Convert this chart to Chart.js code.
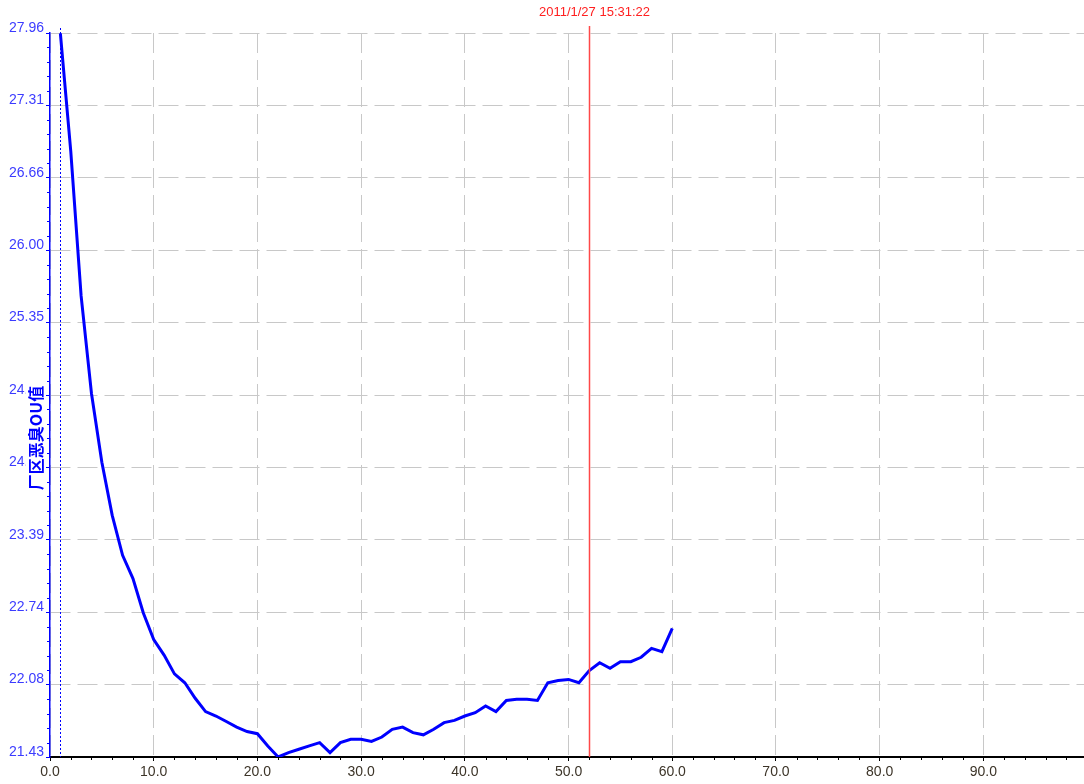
<!DOCTYPE html>
<html>
<head>
<meta charset="utf-8">
<title>厂区恶臭OU值</title>
<script src="https://cdn.jsdelivr.net/npm/chart.js@4.4.0/dist/chart.umd.min.js"></script>
<style>
    html, body { margin: 0; padding: 0; background: #fff; }
    #chart { display: block; }
</style>
</head>
<body>
<canvas id="chart" width="1084" height="784"></canvas>
<script>
    // Sample positions and measured OU values
    const sampleX = [1, 2, 3, 4, 5, 6, 7, 8, 9, 10,
        11, 12, 13, 14, 15, 16, 17, 18, 19, 20,
        21, 22, 23, 24, 25, 26, 27, 28, 29, 30,
        31, 32, 33, 34, 35, 36, 37, 38, 39, 40,
        41, 42, 43, 44, 45, 46, 47, 48, 49, 50,
        51, 52, 53, 54, 55, 56, 57, 58, 59, 60];
    const ouValues = [27.96, 26.90, 25.59, 24.71, 24.09, 23.61, 23.25, 23.04, 22.73, 22.49,
        22.35, 22.18, 22.10, 21.96, 21.84, 21.80, 21.75, 21.70, 21.66, 21.64,
        21.53, 21.43, 21.47, 21.50, 21.53, 21.56, 21.47, 21.56, 21.59, 21.59,
        21.57, 21.61, 21.68, 21.70, 21.65, 21.63, 21.68, 21.74, 21.76, 21.80,
        21.83, 21.89, 21.84, 21.94, 21.95, 21.95, 21.94, 22.10, 22.12, 22.13,
        22.10, 22.21, 22.28, 22.23, 22.29, 22.29, 22.33, 22.41, 22.38, 22.59];

    // Axis ticks
    const xTicks = [0, 10, 20, 30, 40, 50, 60, 70, 80, 90];
    const yTicks = [21.43, 22.0833, 22.7366, 23.3899, 24.0432, 24.6965,
        25.3498, 26.0031, 26.6564, 27.3097, 27.963];

    // Cursor / marker
    const cursorX = 52;
    const cursorLabel = '2011/1/27 15:31:22';
    const markerX = 1;
    const axisTitle = '厂区恶臭OU值';

    const FONT = 'Arial, "Liberation Sans", sans-serif';

    /**
     * Overlay: minor ticks, marker lines, rotated axis title
     */
    const overlayPlugin = {
        id: 'overlay',
        afterDatasetsDraw: function(chart) {
            const ctx = chart.ctx;
            const area = chart.chartArea;
            const xs = chart.scales.x;

            // Blue dotted marker
            const mx = Math.round(xs.getPixelForValue(markerX)) + 0.5;
            ctx.save();
            ctx.strokeStyle = '#0000ff';
            ctx.lineWidth = 1;
            ctx.setLineDash([2, 2]);
            ctx.beginPath();
            ctx.moveTo(mx, area.top - 5);
            ctx.lineTo(mx, area.bottom);
            ctx.stroke();
            ctx.restore();

            // Red cursor line and its label
            const cx = Math.round(xs.getPixelForValue(cursorX)) + 0.5;
            ctx.save();
            ctx.strokeStyle = '#ff4848';
            ctx.lineWidth = 1.5;
            ctx.beginPath();
            ctx.moveTo(cx, area.top - 7);
            ctx.lineTo(cx, area.bottom);
            ctx.stroke();
            ctx.fillStyle = '#ff2020';
            ctx.font = '13px ' + FONT;
            ctx.textAlign = 'center';
            ctx.textBaseline = 'middle';
            ctx.fillText(cursorLabel, cx + 5, 12);
            ctx.restore();
        },
        afterDraw: function(chart) {
            const ctx = chart.ctx;
            const area = chart.chartArea;
            const xs = chart.scales.x;
            const ys = chart.scales.y;

            ctx.save();
            ctx.lineWidth = 1;

            // Minor ticks on x axis
            ctx.strokeStyle = '#000';
            ctx.beginPath();
            for (let v = 2; v < xs.max; v += 2) {
                if (v % 10 === 0) {
                    continue;
                }
                const px = Math.round(xs.getPixelForValue(v)) + 0.5;
                ctx.moveTo(px, area.bottom);
                ctx.lineTo(px, area.bottom + 3);
            }
            ctx.stroke();

            // Minor ticks on y axis
            ctx.strokeStyle = '#0000ff';
            ctx.beginPath();
            for (let i = 0; i < yTicks.length - 1; i++) {
                const step = (yTicks[i + 1] - yTicks[i]) / 5;
                for (let k = 1; k < 5; k++) {
                    const py = Math.round(ys.getPixelForValue(yTicks[i] + k * step)) + 0.5;
                    ctx.moveTo(area.left, py);
                    ctx.lineTo(area.left - 3, py);
                }
            }
            ctx.stroke();

            // Rotated y axis title on a white box
            ctx.translate(35, 438);
            ctx.rotate(-Math.PI / 2);
            ctx.font = 'bold 16px "Noto Sans CJK SC", ' + FONT;
            const w = ctx.measureText(axisTitle).width;
            ctx.fillStyle = '#fff';
            ctx.fillRect(-w / 2 - 2, -9, w + 4, 19);
            ctx.fillStyle = '#0000ff';
            ctx.textAlign = 'center';
            ctx.textBaseline = 'middle';
            ctx.fillText(axisTitle, 0, 1);
            ctx.restore();
        }
    };

    const points = sampleX.map(function(x, i) {
        return { x: x, y: ouValues[i] };
    });

    new Chart(document.getElementById('chart'), {
        type: 'line',
        data: {
            datasets: [{
                data: points,
                borderColor: '#0000ff',
                borderWidth: 3,
                pointRadius: 0,
                tension: 0,
                fill: false
            }]
        },
        options: {
            responsive: false,
            animation: false,
            layout: {
                padding: { top: 33, left: 0, right: 0, bottom: 0 }
            },
            plugins: {
                legend: { display: false },
                tooltip: { enabled: false }
            },
            scales: {
                x: {
                    type: 'linear',
                    min: 0,
                    max: 99.7,
                    afterBuildTicks: function(scale) {
                        scale.ticks = xTicks.map(function(v) { return { value: v }; });
                    },
                    afterFit: function(scale) {
                        scale.height = 27;
                    },
                    ticks: {
                        autoSkip: false,
                        maxRotation: 0,
                        padding: 3,
                        color: '#3c3428',
                        font: { family: FONT, size: 14 },
                        callback: function(v) { return Number(v).toFixed(1); }
                    },
                    grid: {
                        color: '#c8c8c8',
                        lineWidth: 1,
                        tickLength: 4,
                        tickColor: '#000'
                    },
                    border: {
                        color: '#000',
                        width: 2,
                        dash: [20, 7]
                    }
                },
                y: {
                    type: 'linear',
                    min: 21.43,
                    max: 27.963,
                    afterBuildTicks: function(scale) {
                        scale.ticks = yTicks.map(function(v) { return { value: v }; });
                    },
                    afterFit: function(scale) {
                        scale.width = 50;
                    },
                    ticks: {
                        autoSkip: false,
                        padding: 2,
                        labelOffset: -5,
                        color: '#3b3bff',
                        font: { family: FONT, size: 14 },
                        callback: function(v) { return Number(v).toFixed(2); }
                    },
                    grid: {
                        color: '#c8c8c8',
                        lineWidth: 1,
                        tickLength: 4,
                        tickColor: '#0000ff'
                    },
                    border: {
                        color: '#0000ff',
                        width: 1.5,
                        dash: [20, 7]
                    }
                }
            }
        },
        plugins: [overlayPlugin]
    });
</script>
</body>
</html>
